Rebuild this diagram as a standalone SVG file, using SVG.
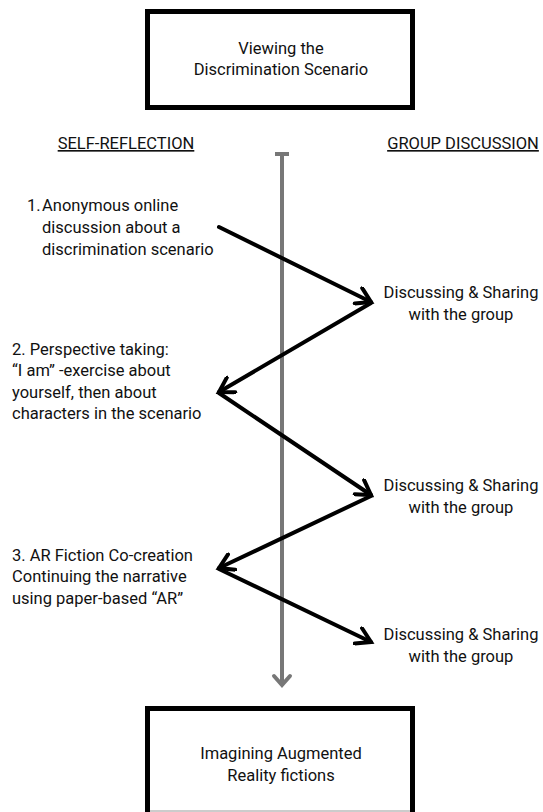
<svg xmlns="http://www.w3.org/2000/svg" width="543" height="812" viewBox="0 0 543 812">
<style>
.t{font-family:Roboto,"Liberation Sans",sans-serif;font-size:16.5px;fill:#111}
.c{text-anchor:middle}
.h{font-family:Roboto,"Liberation Sans",sans-serif;font-size:16.5px;fill:#111;text-anchor:middle;text-decoration:underline}
.box{fill:#fff;stroke:#000;stroke-width:5}
.zz{stroke:#000;stroke-width:4;fill:none;stroke-linecap:round;marker-end:url(#ah)}
.tl{stroke:#777;stroke-width:4;fill:none}
</style>
<defs>
<marker id="ah" markerUnits="userSpaceOnUse" viewBox="-16 -10 20 20" refX="0" refY="0" markerWidth="20" markerHeight="20" orient="auto">
<path d="M-14,-8.5 L0,0 L-14,8.5" fill="none" stroke="#000" stroke-width="4" stroke-linecap="round" stroke-linejoin="miter"/>
</marker>
<marker id="gh" markerUnits="userSpaceOnUse" viewBox="-16 -12 20 24" refX="0" refY="0" markerWidth="20" markerHeight="24" orient="auto">
<path d="M-9,-8 L0,0 L-9,8" fill="none" stroke="#777" stroke-width="4" stroke-linecap="round"/>
</marker>
</defs>
<rect width="543" height="812" fill="#fff"/>
<g id="start">
<rect class="box" x="147.5" y="11.5" width="265" height="96"/>
<text class="t c" x="281" y="54">Viewing the</text>
<text class="t c" x="281" y="75">Discrimination Scenario</text>
</g>
<g id="end">
<rect x="147.5" y="708.5" width="265" height="110" fill="#fff"/>
<path d="M147.5,812 V708.5 H412.5 V812" fill="none" stroke="#000" stroke-width="5"/>
<line x1="150" y1="811" x2="410" y2="811" stroke="#999" stroke-width="1"/>
<text class="t c" x="281" y="759">Imagining Augmented</text>
<text class="t c" x="281" y="781">Reality fictions</text>
</g>
<g id="headers">
<text class="h" x="126" y="149">SELF-REFLECTION</text>
<text class="h" x="463" y="149">GROUP DISCUSSION</text>
</g>
<g id="timeline">
<line class="tl" x1="282" y1="154" x2="282" y2="685" marker-end="url(#gh)"/>
<line class="tl" x1="275" y1="154" x2="289" y2="154"/>
</g>
<g id="step1">
<text class="t" x="27" y="211">1.</text>
<text class="t" x="42" y="211">Anonymous online</text>
<text class="t" x="42" y="233">discussion about a</text>
<text class="t" x="42" y="255">discrimination scenario</text>
</g>
<g id="share1">
<text class="t c" x="461" y="298">Discussing &amp; Sharing</text>
<text class="t c" x="461" y="320">with the group</text>
</g>
<g id="step2">
<text class="t" x="12" y="355">2. Perspective taking:</text>
<text class="t" x="12" y="376">“I am” -exercise about</text>
<text class="t" x="12" y="398">yourself, then about</text>
<text class="t" x="12" y="419">characters in the scenario</text>
</g>
<g id="share2">
<text class="t c" x="461" y="491">Discussing &amp; Sharing</text>
<text class="t c" x="461" y="513">with the group</text>
</g>
<g id="step3">
<text class="t" x="12" y="561">3. AR Fiction Co-creation</text>
<text class="t" x="12" y="582">Continuing the narrative</text>
<text class="t" x="12" y="604">using paper-based “AR”</text>
</g>
<g id="share3">
<text class="t c" x="461" y="640">Discussing &amp; Sharing</text>
<text class="t c" x="461" y="662">with the group</text>
</g>
<g id="connectors">
<line class="zz" x1="219" y1="227" x2="371" y2="302"/>
<line class="zz" x1="371" y1="303" x2="219" y2="392"/>
<line class="zz" x1="219" y1="393" x2="371" y2="495"/>
<line class="zz" x1="371" y1="496" x2="219" y2="568"/>
<line class="zz" x1="219" y1="569" x2="371" y2="642"/>
</g>
</svg>
